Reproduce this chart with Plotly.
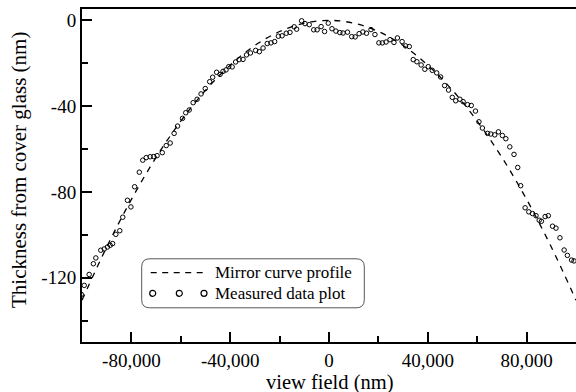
import plotly.graph_objects as go

# ---- data ----
curve_x = [-100000, -90000, -80000, -70000, -60000, -50000, -40000, -30000, -20000, -10000, 0,
           10000, 20000, 30000, 40000, 50000, 60000, 70000, 80000, 90000, 100000]
curve_y = [-130.5, -105.7, -83.5, -63.9, -47.0, -32.6, -20.9, -11.7, -5.2, -1.3, 0.0,
           -1.3, -5.2, -11.7, -20.9, -32.6, -47.0, -63.9, -83.5, -105.7, -130.5]

meas_x = [-100300, -99100, -97100, -95400, -94400, -92400, -91000, -89700, -88600, -87600,
          -86300, -84700, -83500, -81600, -80200, -78700, -76800, -75400, -74000, -72400,
          -71000, -69600, -67500, -65900, -64300, -62700, -61300, -59300, -58000, -56600,
          -55000, -53400, -51800, -50100, -48300, -47100, -45500, -44100, -42900, -41700,
          -40600, -39200, -37800, -36400, -34800, -33400, -31800, -29700, -28200, -26700,
          -25000, -23500, -22000, -20500, -19000, -17300, -15800, -14100, -13100, -11100,
          -9700, -8000, -6200, -4800, -3200, -1800, -300, 1200, 2800, 4400,
          5700, 7500, 9200, 10600, 12200, 13700, 15200, 17000, 18600, 20200,
          21600, 23100, 24700, 26300, 27700, 29600, 31000, 32500, 34100, 35600,
          37300, 38800, 40200, 41800, 43600, 45200, 46800, 48400, 49900, 51300,
          53000, 54300, 56100, 57600, 59300, 60700, 62100, 64200, 65500, 67100,
          68600, 70200, 71600, 73200, 74900, 76400, 77600, 79400, 80900, 82400,
          83800, 85100, 86000, 87500, 88800, 90500, 91900, 93500, 95200, 96500,
          98200, 99200]
meas_y = [-127.8, -123.6, -118.5, -113.5, -110.8, -107.2, -106.6, -105.7, -104.9, -104.1,
          -99.8, -98.1, -91.8, -83.9, -87.0, -77.6, -70.8, -65.2, -64.0, -63.6,
          -63.5, -63.1, -61.7, -58.4, -57.2, -52.7, -49.3, -45.7, -43.1, -41.8,
          -38.4, -36.8, -34.3, -31.8, -28.6, -26.5, -24.2, -25.2, -23.8, -23.1,
          -21.6, -21.7, -19.4, -18.3, -18.2, -16.1, -15.2, -14.0, -14.6, -12.9,
          -10.8, -10.5, -9.9, -7.4, -7.2, -6.0, -5.6, -3.0, -4.1, -0.2,
          -1.5, -2.0, -4.4, -4.4, -2.9, -5.2, -1.3, -3.9, -5.0, -5.7,
          -5.9, -5.5, -7.6, -7.7, -6.2, -5.4, -6.0, -4.3, -6.6, -10.5,
          -10.5, -10.1, -9.0, -10.3, -8.2, -9.9, -11.9, -12.2, -18.3, -19.3,
          -20.8, -22.8, -21.6, -23.3, -24.5, -26.4, -30.4, -32.5, -35.9, -37.5,
          -36.8, -37.9, -39.3, -39.7, -42.3, -47.3, -50.2, -52.7, -53.0, -53.4,
          -52.0, -53.7, -55.2, -59.0, -62.5, -68.6, -77.1, -87.4, -89.3, -90.1,
          -91.1, -93.2, -93.7, -91.5, -91.1, -96.0, -96.9, -101.4, -107.1, -109.6,
          -111.8, -112.2]

x_tickvals = [-80000, -40000, 0, 40000, 80000]
x_ticktext = ["-80,000", "-40,000", "0", "40,000", "80,000"]
x_minor = [-60000, -20000, 20000, 60000]
y_tickvals = [0, -40, -80, -120]
y_ticktext = ["0", "-40", "-80", "-120"]
y_minor = [-20, -60, -100, -140]

legend_labels = ["Mirror curve profile", "Measured data plot"]

# ---- layout geometry ----
W, H = 576, 392
ML, MR, MT, MB = 82, 0, 9, 50
PW, PH = W - ML - MR, H - MT - MB
FONT = "'Liberation Serif', 'Times New Roman', Times, serif"


def px(xp):
    return (xp - ML) / PW


def py(yp):
    return (H - MB - yp) / PH


fig = go.Figure()
fig.add_trace(go.Scatter(x=curve_x, y=curve_y, mode="lines", line_shape="spline",
                         line=dict(color="black", width=1.3, dash="6px,6px"),
                         showlegend=False, hoverinfo="skip"))
fig.add_trace(go.Scatter(x=meas_x, y=meas_y, mode="markers",
                         marker=dict(symbol="circle-open", size=4.5, color="black",
                                     line=dict(color="black", width=1)),
                         showlegend=False))

# custom legend box
x0, x1, y0, y1 = 141.7, 364.3, 258.8, 307.8
r = 8
path = (f"M {px(x0 + r)},{py(y0)} L {px(x1 - r)},{py(y0)} Q {px(x1)},{py(y0)} {px(x1)},{py(y0 + r)} "
        f"L {px(x1)},{py(y1 - r)} Q {px(x1)},{py(y1)} {px(x1 - r)},{py(y1)} "
        f"L {px(x0 + r)},{py(y1)} Q {px(x0)},{py(y1)} {px(x0)},{py(y1 - r)} "
        f"L {px(x0)},{py(y0 + r)} Q {px(x0)},{py(y0)} {px(x0 + r)},{py(y0)} Z")
shapes = [dict(type="path", xref="paper", yref="paper", path=path,
               line=dict(color="#555555", width=1), fillcolor="white", layer="above")]
shapes.append(dict(type="line", xref="paper", yref="paper",
                   x0=px(150.7), x1=px(203), y0=py(272.7), y1=py(272.7),
                   line=dict(color="black", width=1.3, dash="6px,5.5px"), layer="above"))
for cx in [152.7, 179.3, 204.0]:
    shapes.append(dict(type="circle", xref="paper", yref="paper",
                       x0=px(cx - 3), x1=px(cx + 3), y0=py(293.3 + 3), y1=py(293.3 - 3),
                       line=dict(color="black", width=1.2), layer="above"))

annotations = []
for lbl, yy in zip(legend_labels, [272.7, 293.3]):
    annotations.append(dict(text=lbl, xref="paper", yref="paper", x=px(213), y=py(yy),
                            xanchor="left", yanchor="middle", showarrow=False,
                            font=dict(family=FONT, size=17, color="black")))
annotations.append(dict(text="view field (nm)", xref="paper", yref="paper", x=px(330), y=py(382),
                        xanchor="center", yanchor="middle", showarrow=False, borderpad=0,
                        font=dict(family=FONT, size=20.5, color="black")))
annotations.append(dict(text="Thickness from cover glass (nm)", xref="paper", yref="paper",
                        x=px(19), y=py(170), textangle=-90,
                        xanchor="center", yanchor="middle", showarrow=False,
                        font=dict(family=FONT, size=21, color="black")))

fig.update_layout(
    width=W, height=H, margin=dict(l=ML, r=MR, t=MT, b=MB, pad=0),
    paper_bgcolor="white", plot_bgcolor="white",
    font=dict(family=FONT, size=19, color="black"),
    shapes=shapes, annotations=annotations, showlegend=False,
    xaxis=dict(range=[-100000, 100000], tickmode="array", tickvals=x_tickvals, ticktext=x_ticktext,
               ticks="inside", ticklen=10, tickwidth=2, tickcolor="black",
               showline=True, linewidth=2, linecolor="black", mirror=True,
               showgrid=False, zeroline=False,
               tickfont=dict(family=FONT, size=19, color="black"),
               minor=dict(tickmode="array", tickvals=x_minor, ticks="inside", ticklen=6,
                          tickwidth=1.5, tickcolor="black", showgrid=False)),
    yaxis=dict(range=[-150, 5.3], tickmode="array", tickvals=y_tickvals, ticktext=y_ticktext,
               ticks="inside", ticklen=10, tickwidth=2, tickcolor="black",
               showline=True, linewidth=2, linecolor="black", mirror=False,
               showgrid=False, zeroline=False,
               tickfont=dict(family=FONT, size=19, color="black"),
               minor=dict(tickmode="array", tickvals=y_minor, ticks="inside", ticklen=6,
                          tickwidth=1.5, tickcolor="black", showgrid=False)),
)

fig.write_html("out.html")
